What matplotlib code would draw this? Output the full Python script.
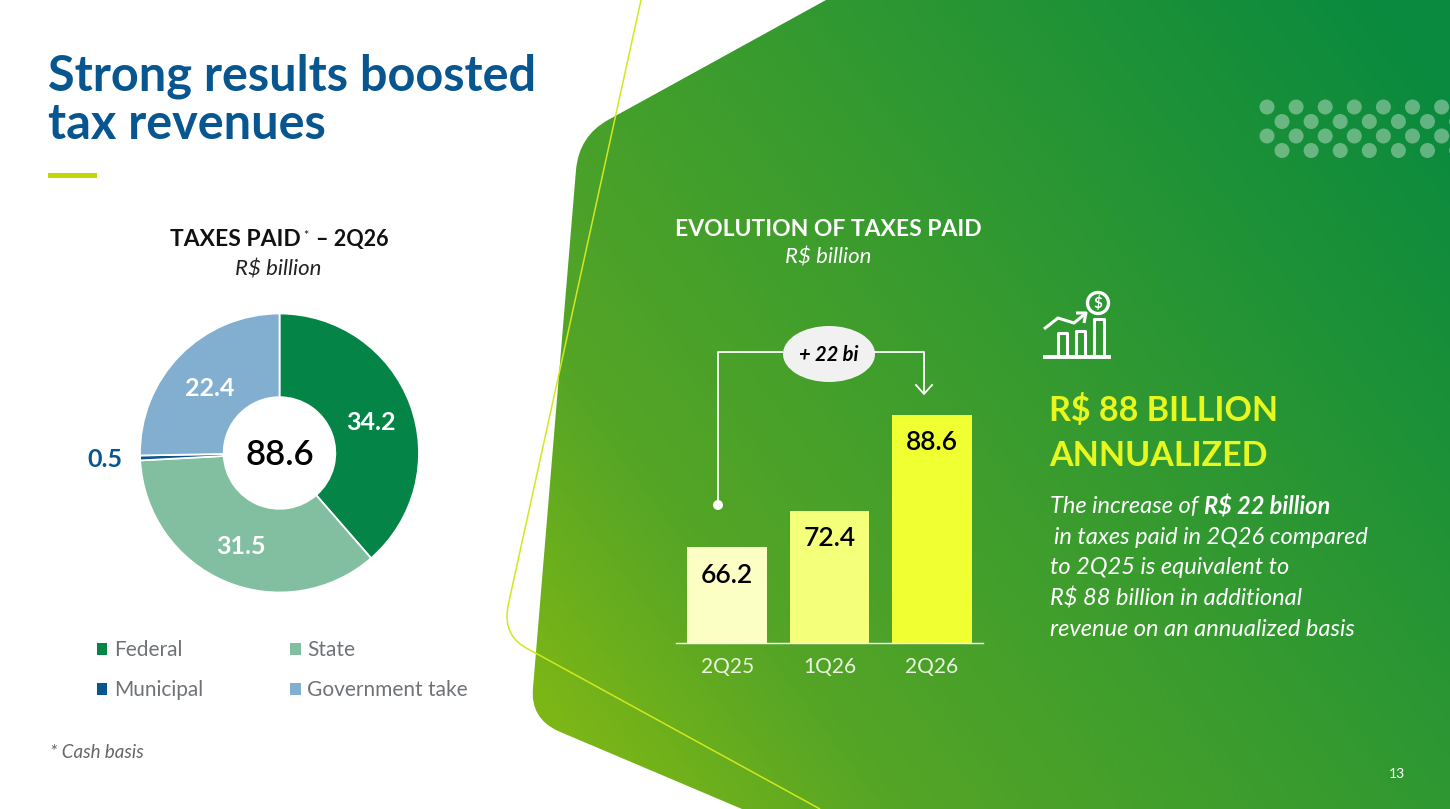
import numpy as np
import matplotlib
matplotlib.use("Agg")
import matplotlib.pyplot as plt
from matplotlib.path import Path
from matplotlib.patches import PathPatch, Ellipse, Circle, Rectangle
from matplotlib.colors import LinearSegmentedColormap

# ---- data ----
pie_labels = ["Federal", "State", "Municipal", "Government take"]
pie_values = [34.2, 31.5, 0.5, 22.4]
pie_total = 88.6
pie_colors = ["#048547", "#82BFA0", "#07568F", "#82AFCF"]
bar_periods = ["2Q25", "1Q26", "2Q26"]
bar_values = [66.2, 72.4, 88.6]
bar_colors = ["#FBFFC4", "#F4FF7A", "#F0FF32"]

W, H = 1450, 809
plt.rcParams["font.family"] = ["Lato", "DejaVu Sans"]
fig = plt.figure(figsize=(W / 100, H / 100), dpi=100, facecolor="white")


def px_axes(x0, y0, x1, y1, **kw):
    return fig.add_axes([x0 / W, 1 - y1 / H, (x1 - x0) / W, (y1 - y0) / H], **kw)


# ---- background shape, gradient and decoration ----
bg = px_axes(0, 0, W, H, zorder=0)
bg.set_xlim(0, W)
bg.set_ylim(H, 0)
bg.axis("off")
verts = [(826, 0), (W, 0), (W, H), (742, H), (558, 731),
         (530, 718), (533, 688), (576, 170), (579, 136), (608, 120), (826, 0)]
codes = [Path.MOVETO, Path.LINETO, Path.LINETO, Path.LINETO, Path.LINETO,
         Path.CURVE3, Path.CURVE3, Path.LINETO, Path.CURVE3, Path.CURVE3, Path.LINETO]
shape = PathPatch(Path(verts, codes), fc="none", ec="none")
bg.add_patch(shape)
yy, xx = np.mgrid[0:H:4, 0:W:4]
t = ((W - xx) * 0.8 + yy * 0.6)
t = np.clip((t - 60) / 1090, 0, 1)
cmap = LinearSegmentedColormap.from_list(
    "g", [(0, "#0A8A3E"), (0.5, "#3A9C2E"), (0.8, "#55A526"), (1, "#7CB616")])
im = bg.imshow(t, extent=(0, W, H, 0), cmap=cmap, vmin=0, vmax=1, aspect="auto", zorder=1)
im.set_clip_path(shape)
bg.set_xlim(0, W)
bg.set_ylim(H, 0)

line_v = [(641, 0), (508, 606), (502, 637), (530, 650), (820, H)]
line_c = [Path.MOVETO, Path.LINETO, Path.CURVE3, Path.CURVE3, Path.LINETO]
bg.add_patch(PathPatch(Path(line_v, line_c), fc="none", ec="#D2E81E", lw=1.1, zorder=2))
bg.add_patch(Rectangle((48, 173), 49, 5, fc="#C4D600", ec="none", zorder=2))

for row, y in enumerate([107, 121.5, 136, 150.5]):
    x0 = 1267 if row % 2 == 0 else 1282
    for i in range(7):
        bg.add_patch(Circle((x0 + i * 29.1, y), 7.5, fc="white", alpha=0.36, ec="none", zorder=2))

# icon
ic = dict(color="white", lw=2.2, solid_capstyle="butt", zorder=3)
bg.plot([1043, 1111], [357, 357], **{**ic, "lw": 2.8})
for a, b, top in [(1058, 1067, 333), (1076, 1085, 331), (1094, 1104, 319)]:
    bg.plot([a, a, b, b], [357, top, top, 357], **ic)
bg.plot([1044, 1058, 1074, 1085], [329, 318, 323, 314], **ic)
bg.plot([1076, 1086, 1084], [313, 313, 323], **ic)
bg.add_patch(Circle((1098, 303), 10.5, fc="none", ec="white", lw=2.4, zorder=3))
bg.text(1098, 303, r"\$", color="white", fontsize=11, fontweight="bold", ha="center", va="center", zorder=3)

# ---- titles and text ----
blue = "#07568F"
bg.text(48, 90, "Strong results boosted", color=blue, fontsize=35, fontweight="bold", va="baseline", zorder=4)
bg.text(48, 139, "tax revenues", color=blue, fontsize=35, fontweight="bold", va="baseline", zorder=4)
bg.text(170, 246, "TAXES PAID", color="#111111", fontsize=16.5, fontweight="bold", va="baseline", zorder=4)
bg.text(303, 240, "*", color="#111111", fontsize=9, va="baseline", zorder=4)
bg.text(316, 246, "– 2Q26", color="#111111", fontsize=15.5, fontweight="bold", va="baseline", zorder=4)
bg.text(278, 269, r"R\$ billion", color="#222222", fontsize=16, style="italic",
        ha="center", va="center", zorder=4)
bg.text(50, 752, "* Cash basis", color="#666666", fontsize=13.5, style="italic", va="center", zorder=4)
bg.text(828, 229, "EVOLUTION OF TAXES PAID", color="white", fontsize=16.5, fontweight="bold",
        ha="center", va="center", zorder=4)
bg.text(828, 257, r"R\$ billion", color="white", fontsize=16, style="italic",
        ha="center", va="center", zorder=4)
bg.text(1049, 421, r"R\$ 88 BILLION", color="#E8F81E", fontsize=24.5, fontweight="bold", va="baseline", zorder=4)
bg.text(1049, 466, "ANNUALIZED", color="#E8F81E", fontsize=24.5, fontweight="bold", va="baseline", zorder=4)
body = dict(color="white", fontsize=17, style="italic", va="center", zorder=4)
bg.text(1050, 507, "The increase of", **body)
bg.text(1204, 507, r"R\$ 22 billion", fontweight="bold", **body)
bg.text(1054, 538, "in taxes paid in 2Q26 compared", **body)
bg.text(1050, 568, "to 2Q25 is equivalent to", **body)
bg.text(1050, 598, r"R\$ 88 billion in additional", **body)
bg.text(1050, 629, "revenue on an annualized basis", **body)
bg.text(1397, 774, "13", color="white", fontsize=10, ha="center", va="center", zorder=4)

# ---- donut ----
R = 139.5
pie_ax = px_axes(279.5 - R, 453 - R, 279.5 + R, 453 + R, zorder=5)
wedges, _ = pie_ax.pie(pie_values, colors=pie_colors, startangle=90, counterclock=False, radius=1,
                       wedgeprops=dict(width=0.6, edgecolor="white", linewidth=1.3))
pie_ax.set_xlim(-1, 1)
pie_ax.set_ylim(-1, 1)
pie_ax.text(0, -0.015, f"{pie_total}", fontsize=25, color="black", ha="center", va="center", fontweight="semibold")
for val, w, col in zip(pie_values, wedges, pie_colors):
    ang = np.deg2rad((w.theta1 + w.theta2) / 2)
    if val < 1:
        pie_ax.text(-1.25, -0.045, f"{val}", fontsize=18, color=col, ha="center", va="center", fontweight="bold", clip_on=False)
    else:
        pie_ax.text(0.7 * np.cos(ang), 0.7 * np.sin(ang) - 0.025, f"{val}", fontsize=18, color="white",
                    ha="center", va="center", fontweight="bold")
leg = pie_ax.legend([wedges[0], wedges[2], wedges[1], wedges[3]],
                    [pie_labels[0], pie_labels[2], pie_labels[1], pie_labels[3]],
                    ncol=2, frameon=False, fontsize=15, handlelength=0.5, handleheight=0.5,
                    handletextpad=0.3, labelspacing=0.97, columnspacing=4.2, borderpad=0, borderaxespad=0,
                    loc="upper left", bbox_to_anchor=(97 / W, 1 - 640 / H), bbox_transform=fig.transFigure,
                    labelcolor="#6F7378")
for h in leg.legend_handles:
    h.set_linewidth(0)

# ---- bars ----
bar_ax = px_axes(676, 400, 983, 643, zorder=5)
bar_ax.patch.set_alpha(0)
px_per_unit = 5.91
bar_ax.set_ylim(50, 50 + 243 / px_per_unit)
bar_ax.set_xlim(-0.5, 2.5)
x = np.arange(len(bar_values))
bars = bar_ax.bar(x, bar_values, width=0.78, color=bar_colors)
for xi, v in zip(x, bar_values):
    bar_ax.annotate(f"{v}", (xi, v), xytext=(0, -11), textcoords="offset points", ha="center", va="top",
                    fontsize=19, color="black", fontweight="semibold")
bar_ax.set_xticks(x, bar_periods)
bar_ax.tick_params(axis="x", length=0, pad=10, labelsize=15, labelcolor="#EAF5E0")
bar_ax.set_yticks([])
for s in ["top", "left", "right"]:
    bar_ax.spines[s].set_visible(False)
bar_ax.spines["bottom"].set_color("white")
bar_ax.spines["bottom"].set_linewidth(1)

# ---- bracket ----
top = px_axes(0, 0, W, H, zorder=6)
top.set_xlim(0, W)
top.set_ylim(H, 0)
top.axis("off")
top.patch.set_alpha(0)
top.plot([782, 718, 718], [352, 352, 505], color="white", lw=1.3)
top.add_patch(Circle((718, 505), 5, fc="white", ec="none"))
top.plot([875, 924, 924], [352, 352, 393], color="white", lw=1.3)
top.plot([916, 924, 932], [385, 394, 385], color="white", lw=1.3)
top.add_patch(Ellipse((829, 354), 92, 56, fc="#F1F1F1", ec="none"))
top.text(829, 355, "+ 22 bi", fontsize=14.5, fontweight="bold", style="italic", color="black", ha="center", va="center")

fig.savefig("out.png", dpi=100)
